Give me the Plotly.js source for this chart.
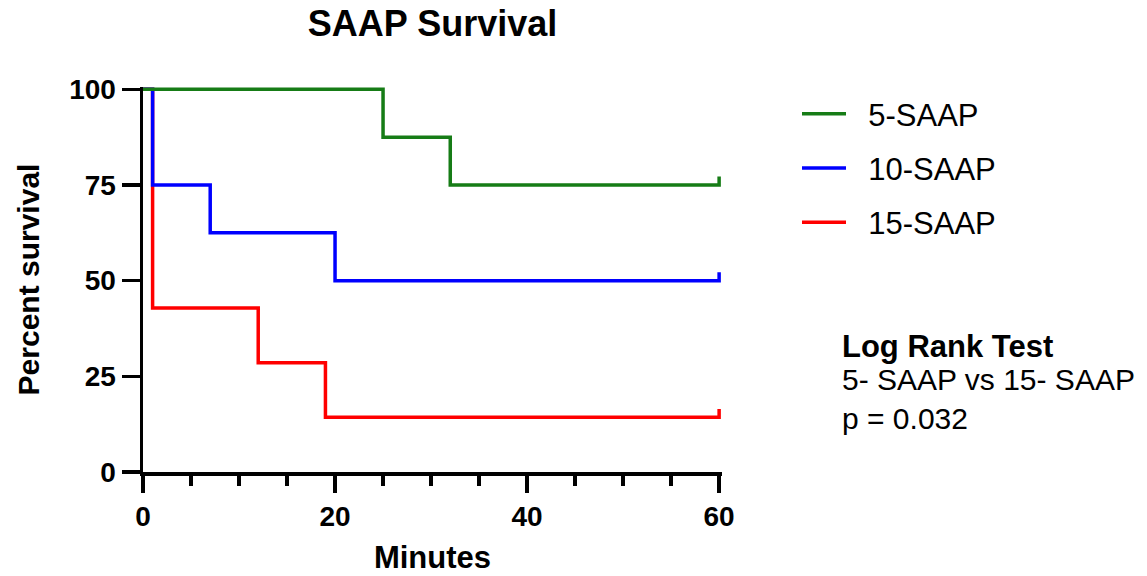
<!DOCTYPE html>
<html>
<head>
<meta charset="utf-8">
<script src="https://cdn.plot.ly/plotly-3.0.1.min.js"></script>
<style>html,body{margin:0;padding:0;background:#fff;}#chart{width:1147px;height:576px;}</style>
</head>
<body>
<div id="chart"></div>
<script>
// Kaplan-Meier step data (minutes, percent survival)
const seriesNames = ["5-SAAP", "10-SAAP", "15-SAAP"];
const timesGreen = [0, 25, 32, 60];
const survGreen = [100, 87.5, 75, 75];
const timesBlue = [0, 1, 7, 20, 60];
const survBlue = [100, 75, 62.5, 50, 50];
const timesRed = [0, 1, 12, 19, 60];
const survRed = [100, 42.86, 28.57, 14.29, 14.29];
const colors = ["rgb(22,124,22)", "rgb(0,0,255)", "rgb(255,0,0)"];
const censorTick = 2.2; // height of censor mark at last time

function withCensor(xs, ys) {
  const x = xs.slice(), y = ys.slice();
  x.push(xs[xs.length - 1]);
  y.push(ys[ys.length - 1] + censorTick);
  return {x, y};
}

const font = "Liberation Sans, Arial, sans-serif";
const g = withCensor(timesGreen, survGreen);
const b = withCensor(timesBlue, survBlue);
const r = withCensor(timesRed, survRed);
const pad = "\u00a0\u00a0"; // spacing between legend line and label

const lw = 3.5;
const traces = [
  {x: r.x, y: r.y, name: pad + seriesNames[2], legendgroup: "g3", legendrank: 3, mode: "lines", line: {shape: "hv", color: colors[2], width: lw}},
  {x: b.x, y: b.y, name: pad + seriesNames[1], legendgroup: "g2", legendrank: 2, mode: "lines", line: {shape: "hv", color: colors[1], width: lw}},
  {x: g.x, y: g.y, name: pad + seriesNames[0], legendgroup: "g1", legendrank: 1, mode: "lines", line: {shape: "hv", color: colors[0], width: lw}}
];

const layout = {
  width: 1147, height: 576,
  margin: {l: 143, r: 425, t: 87, b: 104, pad: 0},
  paper_bgcolor: "#fff", plot_bgcolor: "#fff",
  font: {family: font, color: "#000"},
  title: {text: "<b>SAAP Survival</b>", font: {size: 36, family: font, color: "#000"}, x: 0.5, xref: "paper", xanchor: "center", y: 0.960, yanchor: "middle"},
  xaxis: {
    range: [0, 60.3], tickvals: [0, 20, 40, 60], ticktext: ["<b>0</b>", "<b>20</b>", "<b>40</b>", "<b>60</b>"],
    ticks: "outside", ticklen: 17, tickwidth: 3.5, tickcolor: "#000",
    minor: {tickvals: [5, 10, 15, 25, 30, 35, 45, 50, 55], ticks: "outside", ticklen: 10, tickwidth: 3.5, tickcolor: "#000", showgrid: false},
    showline: true, linewidth: 3.5, linecolor: "#000", showgrid: false, zeroline: false,
    tickfont: {size: 28, family: font, color: "#000"},
    title: {text: "<b>Minutes</b>", font: {size: 31, family: font, color: "#000"}, standoff: 16}
  },
  yaxis: {
    range: [0, 100.6], tickvals: [0, 25, 50, 75, 100], ticktext: ["<b>0</b>", "<b>25</b>", "<b>50</b>", "<b>75</b>", "<b>100</b>"],
    ticks: "outside", ticklen: 18, tickwidth: 3.5, tickcolor: "#000",
    showline: true, linewidth: 3.5, linecolor: "#000", showgrid: false, zeroline: false,
    tickfont: {size: 28, family: font, color: "#000"},
    title: {text: "<b>Percent survival</b>", font: {size: 30, family: font, color: "#000"}, standoff: 21}
  },
  showlegend: true,
  legend: {
    x: (797 - 143) / 579, xanchor: "left", y: 1.0, yanchor: "top",
    traceorder: "grouped", tracegroupgap: 11,
    font: {size: 31, family: font, color: "#000"},
    bgcolor: "rgba(0,0,0,0)", itemwidth: 44
  },
  annotations: [
    {xref: "paper", yref: "paper", x: 1.203, y: 0.325, xanchor: "left", yanchor: "middle", showarrow: false, align: "left",
     text: "<b>Log Rank Test</b>", font: {size: 31, family: font, color: "#000"}},
    {xref: "paper", yref: "paper", x: 1.203, y: 0.240, xanchor: "left", yanchor: "middle", showarrow: false, align: "left",
     text: "5- SAAP vs 15- SAAP", font: {size: 30, family: font, color: "#000"}},
    {xref: "paper", yref: "paper", x: 1.203, y: 0.138, xanchor: "left", yanchor: "middle", showarrow: false, align: "left",
     text: "p = 0.032", font: {size: 30, family: font, color: "#000"}}
  ]
};

Plotly.newPlot("chart", traces, layout, {displayModeBar: false, staticPlot: true});
</script>
</body>
</html>
